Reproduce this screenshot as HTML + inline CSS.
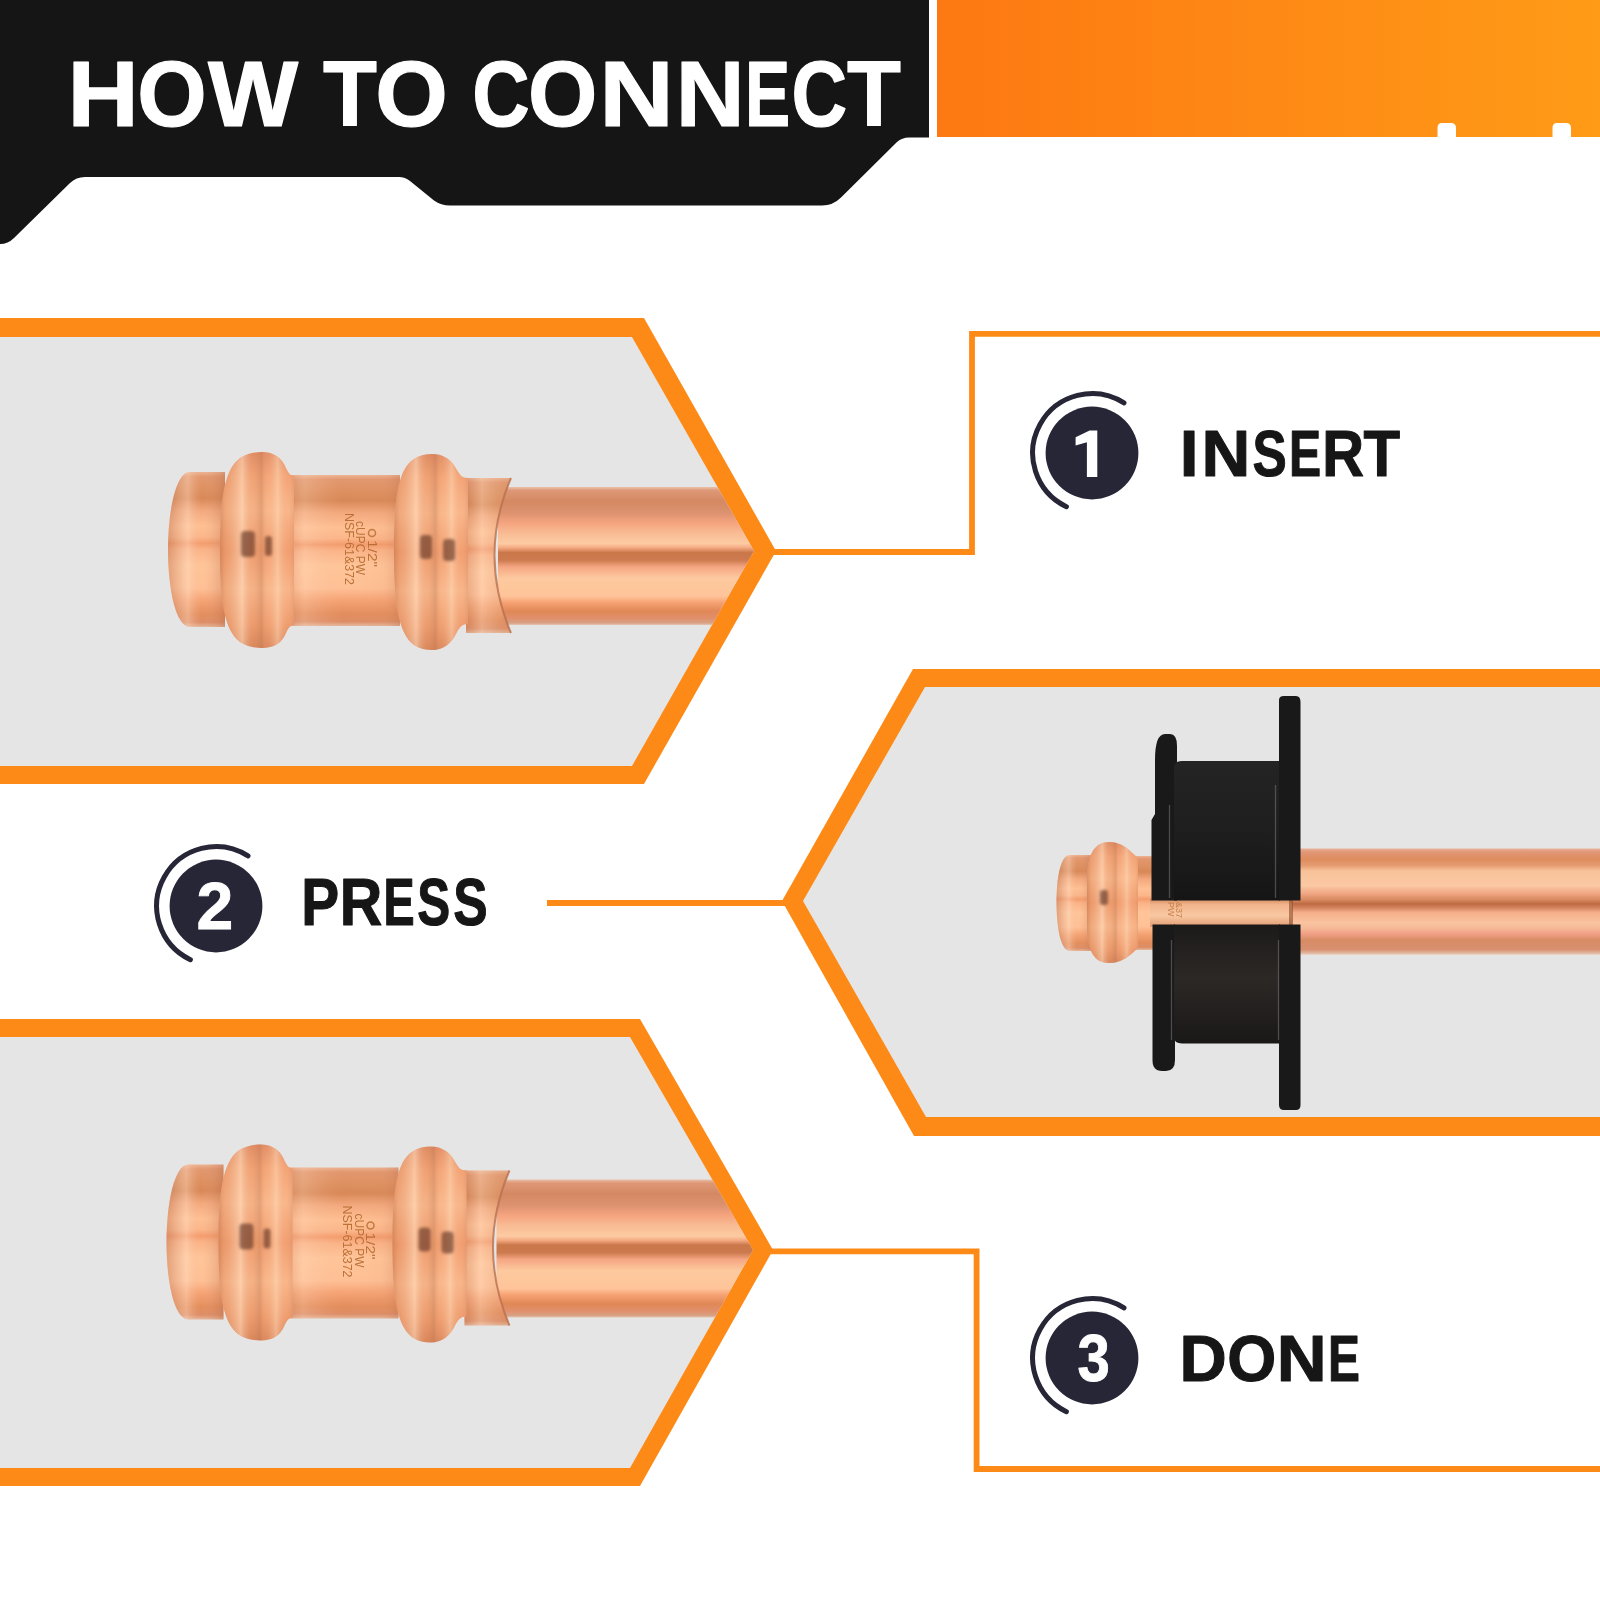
<!DOCTYPE html>
<html><head><meta charset="utf-8">
<style>
html,body{margin:0;padding:0;background:#fff;}
body{width:1600px;height:1600px;overflow:hidden;position:relative;}
svg{position:absolute;left:0;top:0;display:block;}
text{font-family:"Liberation Sans",sans-serif;font-weight:bold;}
</style></head>
<body>
<svg width="1600" height="1600" viewBox="0 0 1600 1600">
<defs>
  <linearGradient id="og" x1="0" y1="0" x2="1" y2="0">
    <stop offset="0" stop-color="#FD7812"/>
    <stop offset="1" stop-color="#FF9B17"/>
  </linearGradient>
  <linearGradient id="pipeG" x1="0" y1="0" x2="0" y2="1">
    <stop offset="0" stop-color="#E9C1A9"/>
    <stop offset="0.025" stop-color="#DE9877"/>
    <stop offset="0.10" stop-color="#D48963"/>
    <stop offset="0.19" stop-color="#DD9270"/>
    <stop offset="0.26" stop-color="#F5A47F"/>
    <stop offset="0.34" stop-color="#F9BD95"/>
    <stop offset="0.41" stop-color="#FCCBA2"/>
    <stop offset="0.44" stop-color="#F5AA83"/>
    <stop offset="0.475" stop-color="#CA784A"/>
    <stop offset="0.53" stop-color="#CC7A4E"/>
    <stop offset="0.58" stop-color="#F5A683"/>
    <stop offset="0.66" stop-color="#FDC99E"/>
    <stop offset="0.79" stop-color="#FFC499"/>
    <stop offset="0.84" stop-color="#F6A072"/>
    <stop offset="0.90" stop-color="#E08856"/>
    <stop offset="0.95" stop-color="#E18E6B"/>
    <stop offset="0.985" stop-color="#D8A184"/>
    <stop offset="1" stop-color="#E4C6B2"/>
  </linearGradient>
  <linearGradient id="pipe2G" x1="0" y1="0" x2="0" y2="1">
    <stop offset="0" stop-color="#E8B49A"/>
    <stop offset="0.03" stop-color="#E29878"/>
    <stop offset="0.10" stop-color="#DE8C5E"/>
    <stop offset="0.16" stop-color="#E59C70"/>
    <stop offset="0.21" stop-color="#F8C29A"/>
    <stop offset="0.35" stop-color="#FAC8A2"/>
    <stop offset="0.42" stop-color="#F2A886"/>
    <stop offset="0.48" stop-color="#D88A60"/>
    <stop offset="0.52" stop-color="#BE6A42"/>
    <stop offset="0.565" stop-color="#D88A66"/>
    <stop offset="0.60" stop-color="#F5AE88"/>
    <stop offset="0.70" stop-color="#FAC4A0"/>
    <stop offset="0.75" stop-color="#F6B896"/>
    <stop offset="0.80" stop-color="#F2A088"/>
    <stop offset="0.86" stop-color="#D88C64"/>
    <stop offset="0.95" stop-color="#D89070"/>
    <stop offset="0.98" stop-color="#E0B49C"/>
    <stop offset="1" stop-color="#ECD8CC"/>
  </linearGradient>
  <linearGradient id="fitG" x1="0" y1="0" x2="0" y2="1">
    <stop offset="0" stop-color="#E8AE8C"/>
    <stop offset="0.04" stop-color="#F4C2A0"/>
    <stop offset="0.10" stop-color="#F6C8A6"/>
    <stop offset="0.16" stop-color="#E9A47E"/>
    <stop offset="0.24" stop-color="#F2B894"/>
    <stop offset="0.36" stop-color="#EDAE88"/>
    <stop offset="0.42" stop-color="#E39A72"/>
    <stop offset="0.47" stop-color="#DE946C"/>
    <stop offset="0.53" stop-color="#F3BA96"/>
    <stop offset="0.65" stop-color="#F6C4A0"/>
    <stop offset="0.78" stop-color="#EDAE88"/>
    <stop offset="0.88" stop-color="#F2BA96"/>
    <stop offset="0.95" stop-color="#E29C76"/>
    <stop offset="1" stop-color="#D89070"/>
  </linearGradient>

  <linearGradient id="bodyG" x1="0" y1="0" x2="0" y2="1">
    <stop offset="0" stop-color="#EDB493"/>
    <stop offset="0.03" stop-color="#E2976E"/>
    <stop offset="0.10" stop-color="#DE9161"/>
    <stop offset="0.17" stop-color="#D88857"/>
    <stop offset="0.25" stop-color="#F3A97D"/>
    <stop offset="0.35" stop-color="#FFC093"/>
    <stop offset="0.42" stop-color="#FBB689"/>
    <stop offset="0.46" stop-color="#F49C6E"/>
    <stop offset="0.50" stop-color="#FBB387"/>
    <stop offset="0.60" stop-color="#FFC599"/>
    <stop offset="0.75" stop-color="#FFC095"/>
    <stop offset="0.83" stop-color="#F5A374"/>
    <stop offset="0.92" stop-color="#E38D5C"/>
    <stop offset="0.97" stop-color="#DD8D66"/>
    <stop offset="1" stop-color="#E5B89D"/>
  </linearGradient>
  <linearGradient id="bodyH" x1="0" y1="0" x2="1" y2="0">
    <stop offset="0" stop-color="#D0805A" stop-opacity="0.35"/>
    <stop offset="0.15" stop-color="#FFE0C8" stop-opacity="0.25"/>
    <stop offset="0.5" stop-color="#F0B090" stop-opacity="0"/>
    <stop offset="0.85" stop-color="#E09670" stop-opacity="0.1"/>
    <stop offset="1" stop-color="#C07450" stop-opacity="0.35"/>
  </linearGradient>
  <linearGradient id="sleeveH" x1="0" y1="0" x2="1" y2="0">
    <stop offset="0" stop-color="#C07450" stop-opacity="0.3"/>
    <stop offset="0.35" stop-color="#FFE0C8" stop-opacity="0.35"/>
    <stop offset="1" stop-color="#D08A60" stop-opacity="0.2"/>
  </linearGradient>
  <linearGradient id="ringV" x1="0" y1="0" x2="0" y2="1">
    <stop offset="0" stop-color="#E28C63"/>
    <stop offset="0.12" stop-color="#F5A576"/>
    <stop offset="0.3" stop-color="#FBB88B"/>
    <stop offset="0.5" stop-color="#F39F70"/>
    <stop offset="0.7" stop-color="#FBB88B"/>
    <stop offset="0.88" stop-color="#F09D6E"/>
    <stop offset="1" stop-color="#DA8559"/>
  </linearGradient>
  <linearGradient id="ringH" x1="0" y1="0" x2="1" y2="0">
    <stop offset="0" stop-color="#B86A40" stop-opacity="0.5"/>
    <stop offset="0.08" stop-color="#D8885C" stop-opacity="0.3"/>
    <stop offset="0.30" stop-color="#FFE6CC" stop-opacity="0.5"/>
    <stop offset="0.45" stop-color="#D89068" stop-opacity="0.15"/>
    <stop offset="0.56" stop-color="#B87450" stop-opacity="0.35"/>
    <stop offset="0.64" stop-color="#F0B088" stop-opacity="0.1"/>
    <stop offset="0.78" stop-color="#FFE2C4" stop-opacity="0.45"/>
    <stop offset="0.92" stop-color="#E8A07A" stop-opacity="0.1"/>
    <stop offset="1" stop-color="#C88060" stop-opacity="0.3"/>
  </linearGradient>
  <linearGradient id="capH" x1="0" y1="0" x2="1" y2="0">
    <stop offset="0" stop-color="#C07450" stop-opacity="0.45"/>
    <stop offset="0.35" stop-color="#FFE0C8" stop-opacity="0.4"/>
    <stop offset="0.6" stop-color="#F0B090" stop-opacity="0.0"/>
    <stop offset="1" stop-color="#B86C48" stop-opacity="0.4"/>
  </linearGradient>
  <linearGradient id="stripG" x1="0" y1="0" x2="0" y2="1">
    <stop offset="0" stop-color="#D08A60"/>
    <stop offset="0.2" stop-color="#F2B48C"/>
    <stop offset="0.6" stop-color="#F8C8A2"/>
    <stop offset="1" stop-color="#E09A70"/>
  </linearGradient>
  <linearGradient id="jawU" x1="0" y1="0" x2="0" y2="1">
    <stop offset="0" stop-color="#242424"/>
    <stop offset="0.5" stop-color="#1E1E1E"/>
    <stop offset="1" stop-color="#151515"/>
  </linearGradient>
  <linearGradient id="jawL" x1="0" y1="0" x2="0" y2="1">
    <stop offset="0" stop-color="#1C1A19"/>
    <stop offset="0.45" stop-color="#2C2826"/>
    <stop offset="0.75" stop-color="#221F1E"/>
    <stop offset="1" stop-color="#1A1817"/>
  </linearGradient>
  <linearGradient id="toolG" x1="0" y1="0" x2="1" y2="0">
    <stop offset="0" stop-color="#202020"/>
    <stop offset="0.5" stop-color="#181818"/>
    <stop offset="1" stop-color="#1E1E1E"/>
  </linearGradient>
  <filter id="blur1" x="-50%" y="-50%" width="200%" height="200%"><feGaussianBlur stdDeviation="1.6"/></filter>
  <clipPath id="clip1"><polygon points="0,337 632,337 754,551 632,766 0,766"/></clipPath>
  <clipPath id="clip2"><polygon points="1600,687 925,687 803,901 926,1117 1600,1117"/></clipPath>
  <clipPath id="clip3"><polygon points="0,1037 630,1037 753,1250 630,1468 0,1468"/></clipPath>
  <g id="fitting"><rect x="498" y="487" width="300" height="138" fill="url(#pipeG)"/>
<path d="M466 478 H511 Q478 555 511 633 H466 Z" fill="url(#bodyG)"/>
<path d="M466 478 H511 Q478 555 511 633 H466 Z" fill="url(#sleeveH)"/>
<path d="M511 478 Q478 555 511 633" fill="none" stroke="#B87050" stroke-width="2" opacity="0.8"/>
<rect x="288" y="475" width="112" height="151" fill="url(#bodyG)"/>
<rect x="288" y="475" width="112" height="151" fill="url(#bodyH)"/>
<path d="M394 551 C394 499 398 469 414 459 C420 455 426 454 432 454 C444 454 452 460 457 470 C460 475 462 478 468 478 L468 624 C462 624 460 627 457 632 C452 643 444 650 432 650 C426 650 420 649 414 645 C398 633 394 603 394 551 Z" fill="url(#ringV)"/>
<path d="M394 551 C394 499 398 469 414 459 C420 455 426 454 432 454 C444 454 452 460 457 470 C460 475 462 478 468 478 L468 624 C462 624 460 627 457 632 C452 643 444 650 432 650 C426 650 420 649 414 645 C398 633 394 603 394 551 Z" fill="url(#ringH)"/>
<path d="M225 472 H190 C176 472 168 510 168 550 C168 590 176 627 190 627 H225 Z" fill="url(#bodyG)"/>
<path d="M225 472 H190 C176 472 168 510 168 550 C168 590 176 627 190 627 H225 Z" fill="url(#capH)"/>
<path d="M220 552 C220 500 224 470 240 458 C248 453 256 452 262 452 C274 452 282 458 286 468 C288 472 290 476 294 476 L294 625 C290 625 288 629 286 633 C282 643 274 648 262 648 C256 648 248 647 240 642 C224 630 220 600 220 552 Z" fill="url(#ringV)"/>
<path d="M220 552 C220 500 224 470 240 458 C248 453 256 452 262 452 C274 452 282 458 286 468 C288 472 290 476 294 476 L294 625 C290 625 288 629 286 633 C282 643 274 648 262 648 C256 648 248 647 240 642 C224 630 220 600 220 552 Z" fill="url(#ringH)"/>
<g fill="#5E3020" opacity="0.62" filter="url(#blur1)">
<rect x="241" y="531" width="14" height="26" rx="4"/>
<rect x="265" y="536" width="7" height="20" rx="3"/>
<rect x="420" y="535" width="12" height="24" rx="4"/>
<rect x="443" y="539" width="12" height="22" rx="4"/>
</g>
<g transform="rotate(90)" fill="#B46A30" opacity="0.9" font-family="Liberation Sans" font-size="12.5">
<text style="font-weight:normal" x="513" y="-344.5" textLength="72" lengthAdjust="spacingAndGlyphs">NSF-61&amp;372</text>
<text style="font-weight:normal" x="521" y="-356" textLength="54" lengthAdjust="spacingAndGlyphs">cUPC PW</text>
<text style="font-weight:normal" x="540" y="-367.5" textLength="27" lengthAdjust="spacingAndGlyphs">1/2"</text>
</g>
<circle cx="372" cy="533" r="3.5" fill="none" stroke="#B46A30" stroke-width="1.5" opacity="0.8"/>
</g>
</defs>
<rect width="1600" height="1600" fill="#fff"/>
<path fill="#151515" d="M0 0 H929 V137.5 H909 Q902 137.5 897 142 L841 197.5 Q833 205.5 822 205.5 H450 Q441 205.5 434 200.5 L410 181 Q405 177 399 177 H85 Q76 177 70 183 L14 238 Q8 244 0 244 Z"/>
<path fill="url(#og)" d="M937 0 H1600 V137 H1571 V128 Q1571 123 1566 123 H1557 Q1552.5 123 1552.5 128 V137 H1456 V128 Q1456 123 1451 123 H1442 Q1437.5 123 1437.5 128 V137 H937 Z"/>
<g stroke="#fff" stroke-width="1.2" stroke-linejoin="round"><text transform="translate(103.00 126.00) scale(1.057 1)" x="-33.67" y="0" font-size="93.32" fill="#fff">H</text><text transform="translate(172.00 126.00) scale(0.956 1)" x="-36.25" y="0" font-size="93.32" fill="#fff">O</text><text transform="translate(253.00 126.00) scale(1.024 1)" x="-44.04" y="0" font-size="93.32" fill="#fff">W</text><text transform="translate(350.00 126.00) scale(0.946 1)" x="-28.52" y="0" font-size="93.32" fill="#fff">T</text><text x="375.25" y="126.00" font-size="93.32" fill="#fff">O</text><text transform="translate(501.50 126.00) scale(0.852 1)" x="-34.33" y="0" font-size="93.32" fill="#fff">C</text><text transform="translate(562.65 126.00) scale(0.955 1)" x="-36.25" y="0" font-size="93.32" fill="#fff">O</text><text transform="translate(636.35 126.00) scale(1.106 1)" x="-33.67" y="0" font-size="93.32" fill="#fff">N</text><text transform="translate(710.00 126.00) scale(1.021 1)" x="-33.67" y="0" font-size="93.32" fill="#fff">N</text><text transform="translate(768.60 126.00) scale(0.726 1)" x="-32.42" y="0" font-size="93.32" fill="#fff">E</text><text transform="translate(819.80 126.00) scale(0.826 1)" x="-34.33" y="0" font-size="93.32" fill="#fff">C</text><text transform="translate(874.00 126.00) scale(0.946 1)" x="-28.52" y="0" font-size="93.32" fill="#fff">T</text></g>

<polygon fill="#FD8A16" points="0,318 644,318 776,551 644,784 0,784"/>
<polygon fill="#E5E5E5" points="0,337 632,337 754,551 632,766 0,766"/>
<polygon fill="#FD8A16" points="1600,669 913,669 782,901 914,1136 1600,1136"/>
<polygon fill="#E5E5E5" points="1600,687 925,687 803,901 926,1117 1600,1117"/>
<polygon fill="#FD8A16" points="0,1019 640,1019 773,1250 640,1486 0,1486"/>
<polygon fill="#E5E5E5" points="0,1037 630,1037 753,1250 630,1468 0,1468"/>

<g clip-path="url(#clip1)"><use href="#fitting"/></g>
<g clip-path="url(#clip3)"><use href="#fitting" transform="translate(-1.5 692.5)"/></g>
<g clip-path="url(#clip2)"><rect x="1290" y="848.5" width="320" height="106.5" fill="url(#pipe2G)"/>
<rect x="1128" y="856" width="30" height="94" fill="url(#bodyG)"/>
<path d="M1092 855 H1070 C1060 855 1056.5 880 1056.5 902 C1056.5 925 1060 951 1070 951 H1092 Z" fill="url(#bodyG)"/>
<path d="M1092 855 H1070 C1060 855 1056.5 880 1056.5 902 C1056.5 925 1060 951 1070 951 H1092 Z" fill="url(#capH)"/>
<path d="M1087 880 C1087 854 1095 842 1109 842 C1123 842 1129 850 1138 858 L1138 948 C1129 956 1123 963 1109 963 C1095 963 1087 952 1087 926 Z" fill="url(#ringV)"/>
<path d="M1087 880 C1087 854 1095 842 1109 842 C1123 842 1129 850 1138 858 L1138 948 C1129 956 1123 963 1109 963 C1095 963 1087 952 1087 926 Z" fill="url(#ringH)"/>
<rect x="1100" y="890" width="8" height="15" rx="3" fill="#5E3020" opacity="0.65" filter="url(#blur1)"/>
<rect x="1150" y="899" width="142" height="28" fill="url(#stripG)"/>
<rect x="1289" y="899" width="4" height="28" fill="#8A4A2A" opacity="0.6"/>
<g transform="rotate(90)" fill="#B46A30" opacity="0.7" font-family="Liberation Sans" font-size="9">
<text style="font-weight:normal" x="902" y="-1168">PW</text>
<text style="font-weight:normal" x="902" y="-1176">&amp;37</text>
</g>
<g fill="#191919">
<path d="M1151.5 900.5 V820 L1155 814 V760 Q1155 734 1165 734 H1170 Q1177 734 1177 746 V900.5 Z"/>
<path d="M1174 900.5 V768 Q1174 761 1182 761 H1280 V900.5 Z" fill="url(#jawU)"/>
<path d="M1279 900.5 V700 Q1279 696 1284 696 H1296 Q1300.5 696 1300.5 702 V900.5 Z"/>
<path d="M1152.5 924.5 V1060 Q1152.5 1071 1162 1071 H1166 Q1175 1071 1175 1060 V924.5 Z"/>
<path d="M1174 924.5 V1037 Q1174 1043.5 1182 1043.5 H1280 V924.5 Z" fill="url(#jawL)"/>
<path d="M1279 924.5 V1105 Q1279 1110 1284 1110 H1296 Q1300.5 1110 1300.5 1105 V924.5 Z"/>
</g>
<g stroke="#808080" stroke-width="1.3" opacity="0.5" fill="none">
<path d="M1169.5 805 V898"/>
<path d="M1275.5 785 V898"/>
<path d="M1171.5 940 V1040"/>
<path d="M1278.5 940 V1040"/>
</g>
</g>

<polyline fill="none" stroke="#FD8A16" stroke-width="5.8" points="770,552 972,552 972,333.8 1600,333.8"/>
<line x1="547" y1="903" x2="790" y2="903" stroke="#FD8A16" stroke-width="5.8"/>
<polyline fill="none" stroke="#FD8A16" stroke-width="5.8" points="767,1251.3 976.6,1251.3 976.6,1469 1600,1469"/>

<g fill="#262637">
  <circle cx="1092" cy="453" r="46.4"/>
  <circle cx="216" cy="906" r="46.4"/>
  <circle cx="1092" cy="1358" r="46.4"/>
</g>
<g fill="none" stroke="#262637" stroke-width="5" stroke-linecap="round">
  <path d="M1124.0 402.8 A59.5 59.5 0 1 0 1066.4 506.7"/>
  <path d="M248.0 855.8 A59.5 59.5 0 1 0 190.4 959.7"/>
  <path d="M1124.0 1307.8 A59.5 59.5 0 1 0 1066.4 1411.7"/>
</g>
<path fill="#fff" d="M1075.6 437.2 L1089.6 430.5 H1097.3 V477.1 H1086.9 V442.2 L1075.6 445.6 Z"/><text transform="translate(214.70 928.80) scale(0.979 1)" x="-18.59" y="0" font-size="67.5" fill="#fff" stroke="#fff" stroke-width="0.9">2</text><text transform="translate(1093.15 1381.04) scale(0.861 1)" x="-18.33" y="0" font-size="67.5" fill="#fff" stroke="#fff" stroke-width="0.9">3</text>
<g stroke="#161616" stroke-width="1.1" stroke-linejoin="round">
<text transform="translate(1189.12 475.50) scale(1.042 1)" x="-9.03" y="0" font-size="64.97" fill="#161616">I</text><text transform="translate(1225.88 475.50) scale(1.041 1)" x="-23.44" y="0" font-size="64.97" fill="#161616">N</text><text transform="translate(1269.38 475.50) scale(0.790 1)" x="-21.33" y="0" font-size="64.97" fill="#161616">S</text><text transform="translate(1305.75 475.50) scale(0.741 1)" x="-22.57" y="0" font-size="64.97" fill="#161616">E</text><text transform="translate(1344.38 475.50) scale(0.891 1)" x="-24.97" y="0" font-size="64.97" fill="#161616">R</text><text transform="translate(1381.88 475.50) scale(0.921 1)" x="-19.86" y="0" font-size="64.97" fill="#161616">T</text>
<text transform="translate(321.18 924.80) scale(0.863 1)" x="-23.04" y="0" font-size="65.84" fill="#161616">P</text><text transform="translate(362.50 924.80) scale(0.895 1)" x="-25.30" y="0" font-size="65.84" fill="#161616">R</text><text transform="translate(399.60 924.80) scale(0.709 1)" x="-22.88" y="0" font-size="65.84" fill="#161616">E</text><text transform="translate(433.40 924.80) scale(0.750 1)" x="-21.62" y="0" font-size="65.84" fill="#161616">S</text><text transform="translate(470.15 924.80) scale(0.783 1)" x="-21.62" y="0" font-size="65.84" fill="#161616">S</text>
<text x="1179.57" y="1380.80" font-size="65.41" fill="#161616">D</text><text transform="translate(1251.62 1380.80) scale(0.963 1)" x="-25.41" y="0" font-size="65.41" fill="#161616">O</text><text transform="translate(1301.58 1380.80) scale(1.057 1)" x="-23.60" y="0" font-size="65.41" fill="#161616">N</text><text transform="translate(1344.67 1380.80) scale(0.732 1)" x="-22.72" y="0" font-size="65.41" fill="#161616">E</text>
</g>
</svg>
</body></html>
